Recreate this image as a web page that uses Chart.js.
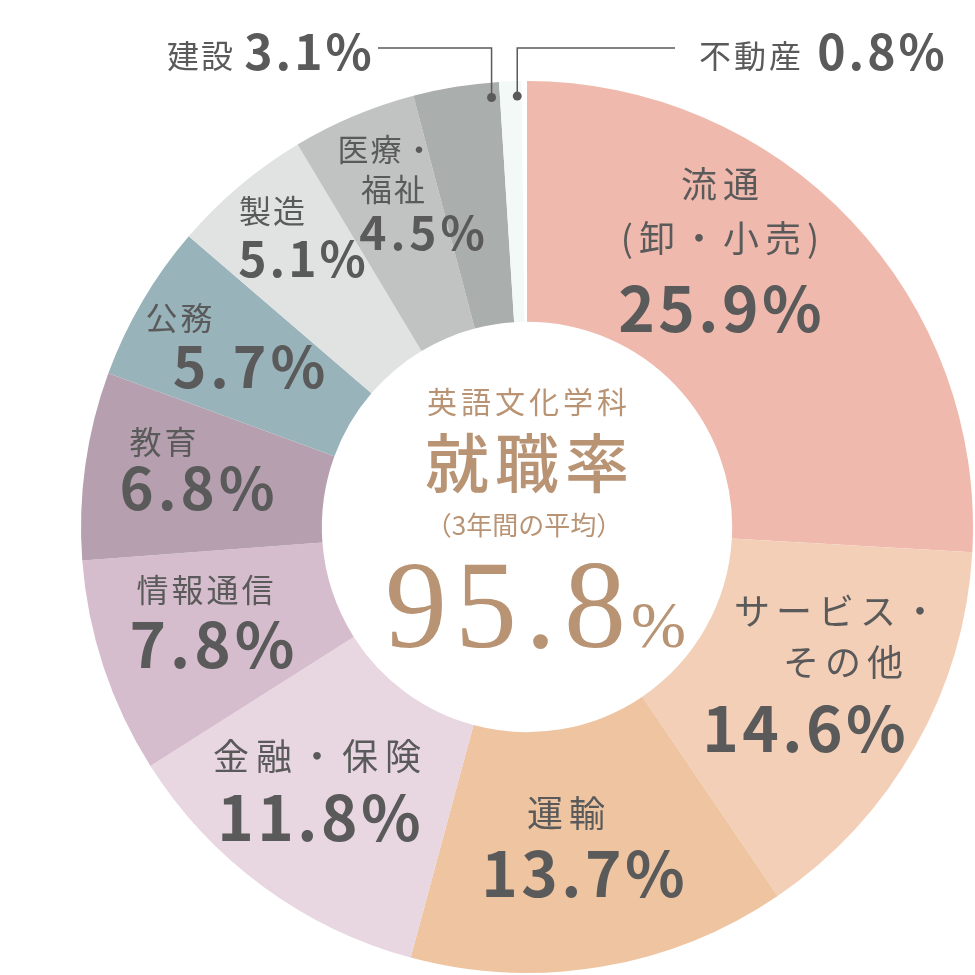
<!DOCTYPE html>
<html lang="ja">
  <head>
    <meta charset="utf-8" />
    <title>英語文化学科 就職率</title>
    <script src="https://cdn.jsdelivr.net/npm/chart.js@4.4.1/dist/chart.umd.min.js"></script>
    <style>
      html, body { margin: 0; padding: 0; background: #fff; }
      #chart { display: block; }
    </style>
  </head>
  <body>
    <canvas id="chart" width="975" height="975"></canvas>

    <script>
      // data, clockwise from 12 o'clock
      const categories = ['流通\n(卸・小売)', 'サービス・\nその他', '運輸', '金融・保険', '情報通信', '教育', '公務', '製造', '医療・\n福祉', '建設', '不動産'];
      const shares = [25.9, 14.6, 13.7, 11.8, 7.8, 6.8, 5.7, 5.1, 4.5, 3.1, 0.8];
      const centerTitle = '英語文化学科';
      const centerHeading = '就職率';
      const centerNote = '（3年間の平均）';
      const employmentRate = 95.8;

      const colors = ['#efb9ad', '#f3cfb7', '#eec4a1', '#e8d6e1', '#d6bdcd', '#b6a0b0', '#99b3ba', '#e1e3e2', '#c1c3c2', '#aaaeac', '#f3f9f6'];

      const textGray = '#5a5a5a';
      const brown = '#b99474';

      // label placement: name lines [x, y(middle)], percent [x, baseline], sizes
      const labelLayout = [
        { names: [[720, 184], [720, 238]], nameSize: 36, nameGap: 6, pct: [720, 332], pctSize: 62, pctGap: 3.5 },
        { names: [[836, 611], [843, 662]], nameSize: 36, nameGap: 6, pct: [804, 752], pctSize: 62, pctGap: 3.5 },
        { names: [[566, 813]], nameSize: 36, nameGap: 6, pct: [583, 897], pctSize: 62, pctGap: 3.5 },
        { names: [[317, 756]], nameSize: 36, nameGap: 7, pct: [319, 841], pctSize: 62, pctGap: 3.5 },
        { names: [[205, 590]], nameSize: 32, nameGap: 3, pct: [212, 668], pctSize: 62, pctGap: 4 },
        { names: [[163, 442]], nameSize: 32, nameGap: 3, pct: [197, 510], pctSize: 58, pctGap: 4 },
        { names: [[179, 318]], nameSize: 32, nameGap: 3, pct: [249, 388], pctSize: 57, pctGap: 4 },
        { names: [[272, 211]], nameSize: 32, nameGap: 2, pct: [302, 277], pctSize: 48, pctGap: 3 },
        { names: [[386, 149], [393, 189]], nameSize: 31, nameGap: 2, pct: [422, 250], pctSize: 46, pctGap: 4 },
        { names: [[200, 56]], nameSize: 32, nameGap: 2, pct: [308, 70], pctSize: 48, pctGap: 3, leader: { to: 378, y: 48, at: 0.9 } },
        { names: [[750, 56]], nameSize: 32, nameGap: 3, pct: [881, 70], pctSize: 48, pctGap: 3, leader: { to: 675, y: 48, at: 0.8 } }
      ];

      const FONT = '"Noto Sans CJK JP", "Noto Sans", sans-serif';
      const SERIF = '"Liberation Serif", "DejaVu Serif", "Noto Sans CJK JP", serif';

      const sliceLabels = {
        id: 'sliceLabels',
        afterDatasetsDraw(chart) {
          const ctx = chart.ctx;
          const arcs = chart.getDatasetMeta(0).data;
          ctx.save();
          ctx.fillStyle = textGray;
          ctx.strokeStyle = textGray;
          ctx.textAlign = 'center';

          arcs.forEach((arc, i) => {
            const lay = labelLayout[i];
            const lines = categories[i].split('\n');

            ctx.font = '400 ' + lay.nameSize + 'px ' + FONT;
            ctx.letterSpacing = lay.nameGap + 'px';
            ctx.textBaseline = 'middle';
            lines.forEach((t, k) => {
              const p = lay.names[k];
              ctx.fillText(t, p[0] + lay.nameGap / 2, p[1]);
            });

            ctx.font = '700 ' + lay.pctSize + 'px ' + FONT;
            ctx.letterSpacing = lay.pctGap + 'px';
            ctx.textBaseline = 'alphabetic';
            ctx.fillText(shares[i].toFixed(1) + '%', lay.pct[0] + lay.pctGap / 2, lay.pct[1]);

            if (lay.leader) {
              const a = arc.startAngle + (arc.endAngle - arc.startAngle) * lay.leader.at;
              const r = arc.outerRadius - 15;
              const dx = arc.x + Math.cos(a) * r;
              const dy = arc.y + Math.sin(a) * r;
              ctx.lineWidth = 1.5;
              ctx.beginPath();
              ctx.moveTo(dx, dy);
              ctx.lineTo(dx, lay.leader.y);
              ctx.lineTo(lay.leader.to, lay.leader.y);
              ctx.stroke();
              ctx.beginPath();
              ctx.arc(dx, dy, 4.5, 0, Math.PI * 2);
              ctx.fill();
            }
          });

          // centre text
          const cx = arcs[0].x;
          const cy = arcs[0].y;
          ctx.fillStyle = brown;
          ctx.textAlign = 'center';
          ctx.textBaseline = 'middle';
          ctx.font = '400 30px ' + FONT;
          ctx.letterSpacing = '4px';
          ctx.fillText(centerTitle, cx + 2, cy - 125);
          ctx.font = '500 64px ' + FONT;
          ctx.letterSpacing = '6px';
          ctx.fillText(centerHeading, cx + 3, cy - 64);
          ctx.font = '400 26px ' + FONT;
          ctx.letterSpacing = '0px';
          ctx.fillText(centerNote, cx - 3, cy - 2);

          ctx.textAlign = 'left';
          ctx.textBaseline = 'alphabetic';
          ctx.font = '400 124px ' + SERIF;
          ctx.letterSpacing = '8px';
          ctx.fillText(employmentRate.toFixed(1), cx - 142, cy + 120);
          ctx.font = '400 66px ' + SERIF;
          ctx.letterSpacing = '0px';
          ctx.fillText('%', cx + 104, cy + 120);
          ctx.restore();
        }
      };

      const total = shares.reduce((s, v) => s + v, 0);

      new Chart(document.getElementById('chart'), {
        type: 'doughnut',
        data: {
          labels: categories,
          datasets: [{
            data: shares,
            backgroundColor: colors,
            borderWidth: 0
          }]
        },
        options: {
          responsive: false,
          animation: false,
          cutout: '46%',
          rotation: 0,
          circumference: total * 3.6,
          layout: { padding: { left: 81, top: 81, right: 2, bottom: 2 } },
          plugins: {
            legend: { display: false },
            tooltip: { enabled: false }
          }
        },
        plugins: [sliceLabels]
      });
    </script>
  </body>
</html>
